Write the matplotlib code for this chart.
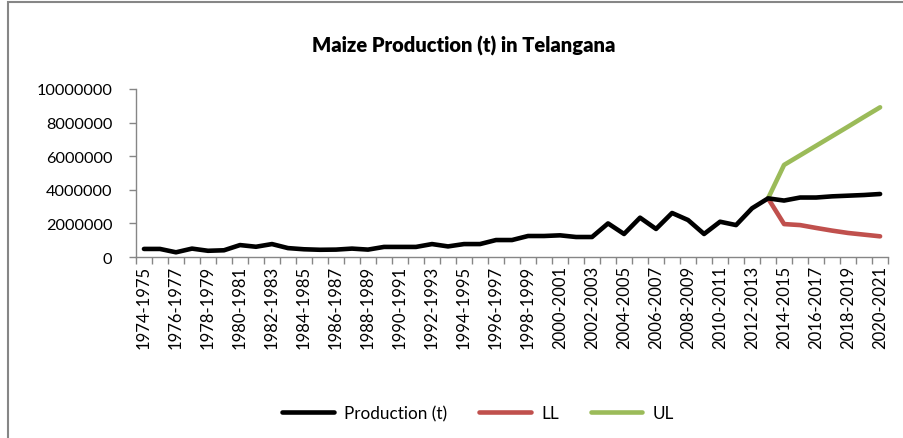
import matplotlib.pyplot as plt
from matplotlib.patches import Rectangle

plt.rcParams['font.family'] = ['Lato', 'DejaVu Sans']

# categories: crop years 1974-1975 ... 2020-2021
start_years = list(range(1974, 2021))
years = [f"{y}-{y + 1}" for y in start_years]

# production (t)
production = [480000, 480000, 280000, 500000, 370000, 400000, 710000, 610000,
              770000, 530000, 460000, 430000, 440000, 500000, 440000, 600000,
              600000, 600000, 770000, 630000, 770000, 770000, 1010000, 1010000,
              1250000, 1250000, 1290000, 1190000, 1190000, 2000000, 1370000,
              2340000, 1670000, 2620000, 2200000, 1370000, 2100000, 1900000,
              2900000, 3490000, 3360000, 3540000, 3540000, 3610000, 3650000,
              3690000, 3750000]

# forecast limits start from 2013-2014
limit_start = 39
lower = [3490000, 1960000, 1900000, 1730000, 1570000, 1430000, 1330000, 1230000]
upper = [3490000, 5480000, 6050000, 6620000, 7190000, 7760000, 8340000, 8910000]

fig = plt.figure(figsize=(9.04, 4.39), dpi=100)
ax = fig.add_axes([0.1504, 0.4123, 0.832, 0.3827])

x = list(range(len(years)))
xl = list(range(limit_start, limit_start + len(lower)))

ax.plot(x, production, color='black', lw=3.3, solid_capstyle='round',
        solid_joinstyle='round', label='Production (t)', zorder=3)
ax.plot(xl, lower, color='#C0504D', lw=3.3, solid_capstyle='round',
        solid_joinstyle='round', label='LL', zorder=2)
ax.plot(xl, upper, color='#9BBB59', lw=3.3, solid_capstyle='round',
        solid_joinstyle='round', label='UL', zorder=2)

ax.set_xlim(-0.5, len(years) - 0.5)
ax.set_ylim(0, 10000000)
ax.set_yticks(range(0, 10000001, 2000000))
ax.set_yticklabels([str(v) for v in range(0, 10000001, 2000000)])

ax.set_xticks(x[::2])
ax.set_xticklabels(years[::2], rotation=90)
ax.set_xticks([i - 0.5 for i in range(len(years) + 1)], minor=True)
ax.tick_params(axis='x', which='major', length=0, pad=6, labelsize=12)
ax.tick_params(axis='x', which='minor', length=5, color='#868686', width=1)
ax.tick_params(axis='y', length=5, color='#868686', width=1, labelsize=11.7, pad=12)

for side in ['top', 'right']:
    ax.spines[side].set_visible(False)
for side in ['left', 'bottom']:
    ax.spines[side].set_color('#868686')
    ax.spines[side].set_linewidth(1)

fig.text(0.513, 0.895, 'Maize Production (t) in Telangana', ha='center',
         va='center', fontsize=14.5, fontweight='heavy')

ax.legend(loc='center', bbox_to_anchor=(0.455, -0.93), ncol=3, frameon=False,
          fontsize=12.3, handlelength=3.0, columnspacing=1.9, handletextpad=0.6)

# chart area border (cropped at right and bottom)
fig.patches.append(Rectangle((8 / 904, -0.1), 1.2, 1.1 - 3 / 439,
                             transform=fig.transFigure, fill=False,
                             edgecolor='#868686', lw=1.5))

fig.savefig('out.png', dpi=100)
